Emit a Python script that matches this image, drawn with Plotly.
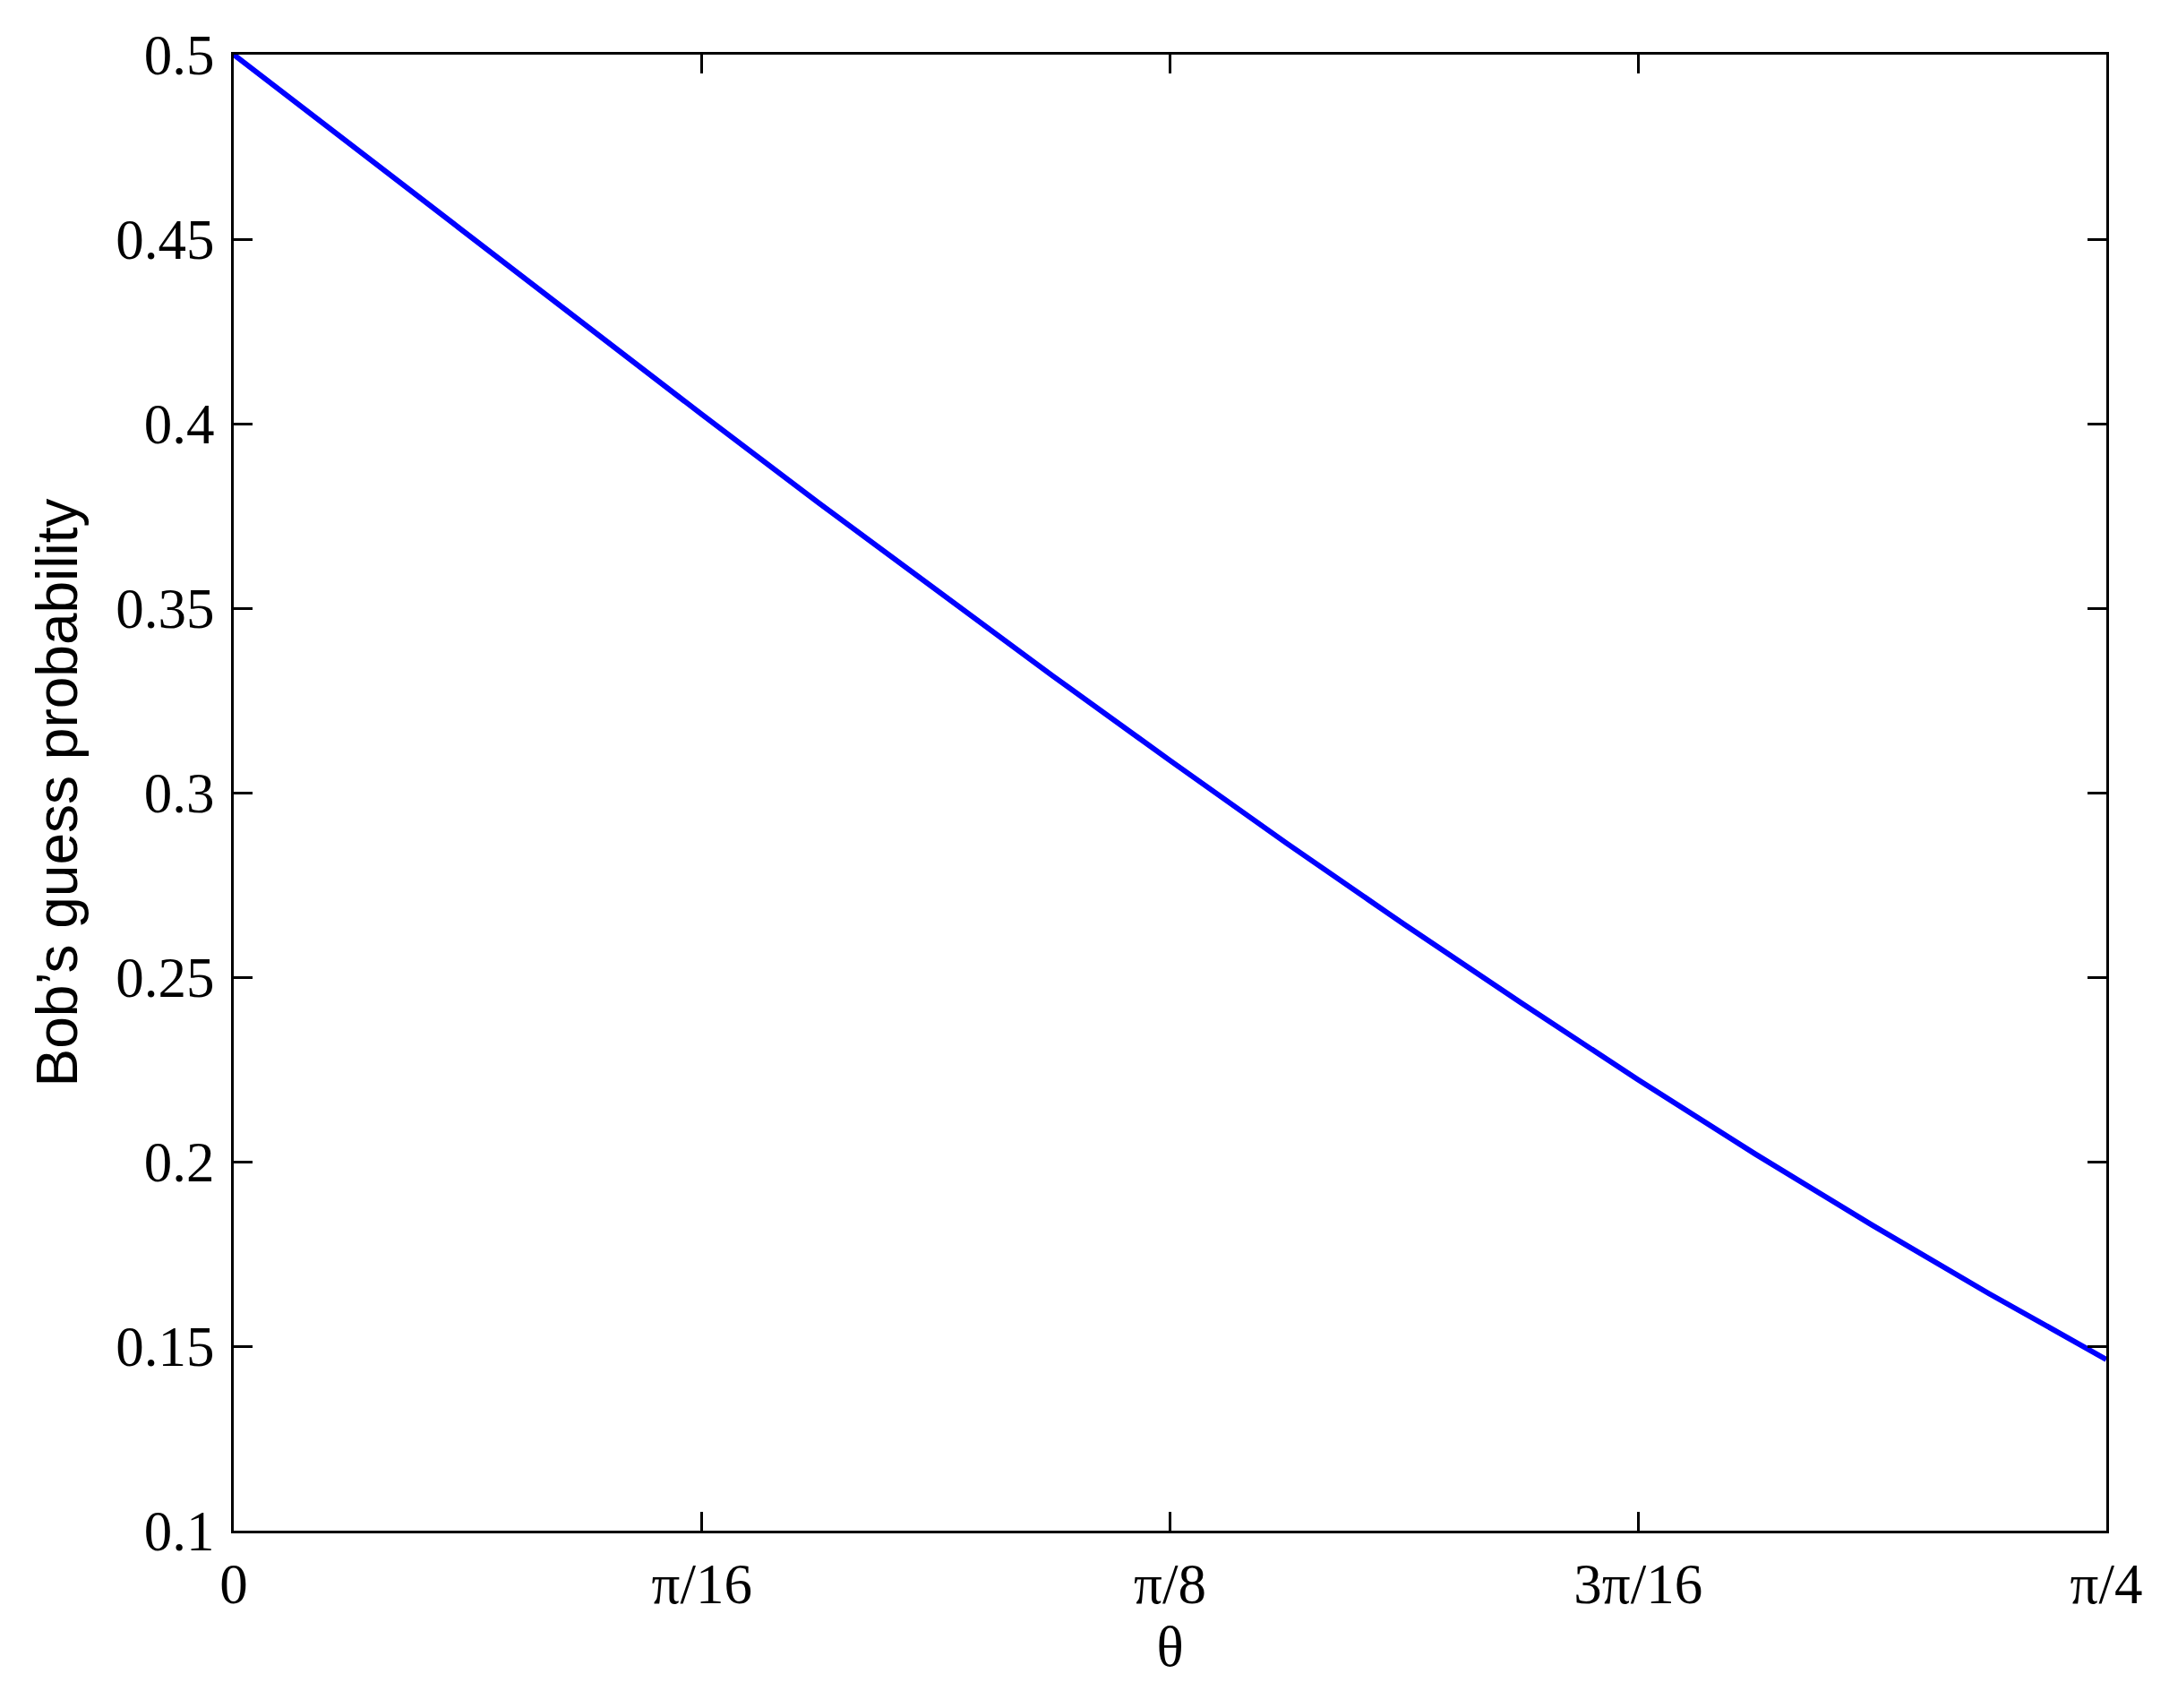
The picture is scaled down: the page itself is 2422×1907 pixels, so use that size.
import plotly.graph_objects as go

# theta (radians), sampled every pi/64 from 0 to pi/4
theta = [0.0, 0.0491, 0.0982, 0.1473, 0.1963, 0.2454, 0.2945, 0.3436, 0.3927,
         0.4418, 0.4909, 0.5400, 0.5890, 0.6381, 0.6872, 0.7363, 0.7854]
# Bob's guess probability
prob = [0.500, 0.4755, 0.4510, 0.4266, 0.4025, 0.3785, 0.3549, 0.3316, 0.3087,
        0.2862, 0.2643, 0.2430, 0.2222, 0.2021, 0.1828, 0.1642, 0.1464]

x_tickvals = [0.0, 0.19635, 0.3927, 0.58905, 0.7854]
x_ticktext = ["0", "π/16", "π/8", "3π/16", "π/4"]
y_tickvals = [0.1, 0.15, 0.2, 0.25, 0.3, 0.35, 0.4, 0.45, 0.5]
y_ticktext = ["0.1", "0.15", "0.2", "0.25", "0.3", "0.35", "0.4", "0.45", "0.5"]

fig = go.Figure()
fig.add_trace(go.Scatter(
    x=theta,
    y=prob,
    mode="lines",
    line=dict(color="#0000ff", width=6),
    showlegend=False,
))

axis_style = dict(
    showgrid=False,
    zeroline=False,
    showline=True,
    linecolor="black",
    linewidth=3,
    mirror="ticks",
    ticks="inside",
    ticklen=21,
    tickwidth=3,
    tickcolor="black",
    tickfont=dict(family="Liberation Serif", size=63, color="black"),
)

fig.update_xaxes(
    range=[0, 0.7854],
    tickmode="array",
    tickvals=x_tickvals,
    ticktext=x_ticktext,
    ticklabelstandoff=2,
    title=dict(text="θ", font=dict(family="Liberation Serif", size=63, color="black"),
               standoff=8),
    **axis_style,
)
fig.update_yaxes(
    range=[0.1, 0.5],
    tickmode="array",
    tickvals=y_tickvals,
    ticktext=y_ticktext,
    ticklabelstandoff=6,
    title=dict(text="Bob’s guess probability",
               font=dict(family="Liberation Sans", size=64, color="black"),
               standoff=22),
    **axis_style,
)

# page body adds ~8px offset, so margins are trimmed to land the frame in place
fig.update_layout(
    width=2422,
    height=1907,
    margin=dict(l=253, r=78, t=53, b=206),
    paper_bgcolor="white",
    plot_bgcolor="white",
)

fig.write_html("out.html")
